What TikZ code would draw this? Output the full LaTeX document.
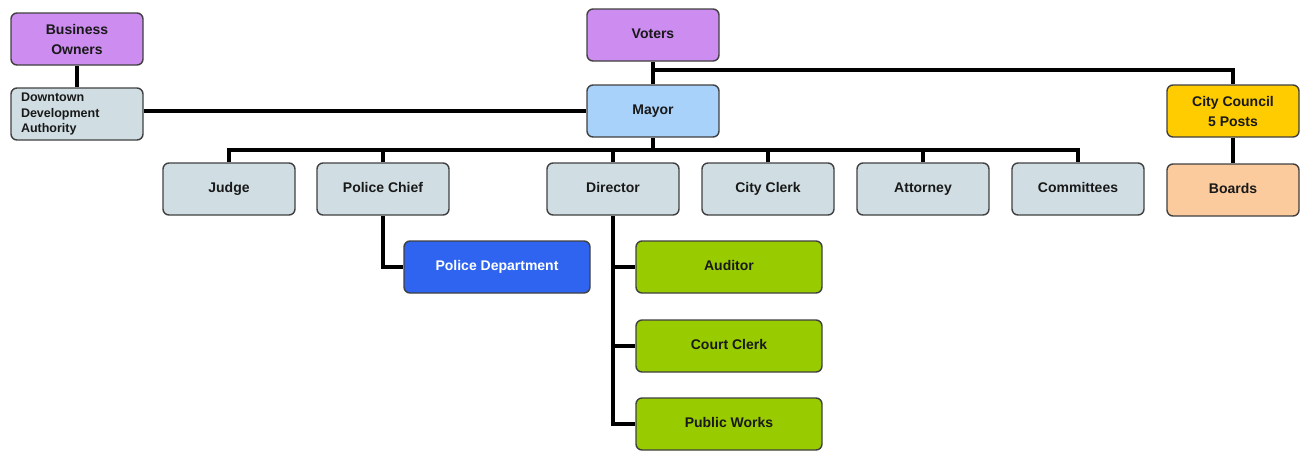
\documentclass[tikz,border=0pt]{standalone}
\usepackage{fontspec}
\setmainfont{Liberation Sans}
\begin{document}
\begin{tikzpicture}[x=1pt,y=-1pt,
  box/.style={draw=black!75,line width=1.4pt,rounded corners=6pt,minimum width=132pt,minimum height=52pt,inner sep=2pt,font=\fontsize{14}{20}\selectfont\bfseries,align=center,text=black!90},
  one/.style={box,text height=10pt,text depth=3pt},
  wide/.style={one,minimum width=186pt},
  conn/.style={line width=4pt,draw=black}]
\useasboundingbox (0,0) rectangle (1304,451);
\definecolor{purpc}{RGB}{204,140,240}
\definecolor{mayorc}{RGB}{168,210,250}
\definecolor{grayc}{RGB}{208,222,228}
\definecolor{goldc}{RGB}{255,204,0}
\definecolor{peachc}{RGB}{251,203,158}
\definecolor{bluec}{RGB}{46,100,240}
\definecolor{greenc}{RGB}{153,204,0}
% nodes
\node[box,fill=purpc] (bo) at (77,39) {Business\\Owners};
\node[box,fill=grayc,align=left,font=\fontsize{12.5}{15.5}\selectfont\bfseries,text width=112pt] (dda) at (77,114) {Downtown\\Development\\Authority};
\node[one,fill=purpc] (voters) at (653,35) {Voters};
\node[one,fill=mayorc] (mayor) at (653,111) {Mayor};
\node[box,fill=goldc] (council) at (1233,111) {City Council\\5 Posts};
\node[one,fill=peachc] (boards) at (1233,190) {Boards};
\node[one,fill=grayc] (judge) at (229,189) {Judge};
\node[one,fill=grayc] (chief) at (383,189) {Police Chief};
\node[one,fill=grayc] (director) at (613,189) {Director};
\node[one,fill=grayc] (clerk) at (768,189) {City Clerk};
\node[one,fill=grayc] (attorney) at (923,189) {Attorney};
\node[one,fill=grayc] (committees) at (1078,189) {Committees};
\node[wide,fill=bluec,text=white] (pd) at (497,267) {Police Department};
\node[wide,fill=greenc] (auditor) at (729,267) {Auditor};
\node[wide,fill=greenc] (court) at (729,346) {Court Clerk};
\node[wide,fill=greenc] (works) at (729,424) {Public Works};
% coordinates
\coordinate (vb) at (653,70);
\coordinate (mb) at (653,150);
% connectors
\draw[conn] (bo.south) -- (dda.north);
\draw[conn] (dda.east |- mayor.west) -- (mayor.west);
\draw[conn] (voters.south) -- (mayor.north);
\draw[conn] (vb) -| (council.north);
\draw[conn] (council.south) -- (boards.north);
\draw[conn] (mayor.south) -- (mb);
\draw[conn] (judge.north) |- (committees.north |- mb) -- (committees.north);
\foreach \n in {chief,director,clerk,attorney}
  \draw[conn] (\n.north) -- (\n.north |- mb);
\draw[conn] (chief.south) |- (pd.west);
\draw[conn] (director.south) |- (works.west);
\draw[conn] (director.south |- auditor.west) -- (auditor.west);
\draw[conn] (director.south |- court.west) -- (court.west);
\end{tikzpicture}
\end{document}
